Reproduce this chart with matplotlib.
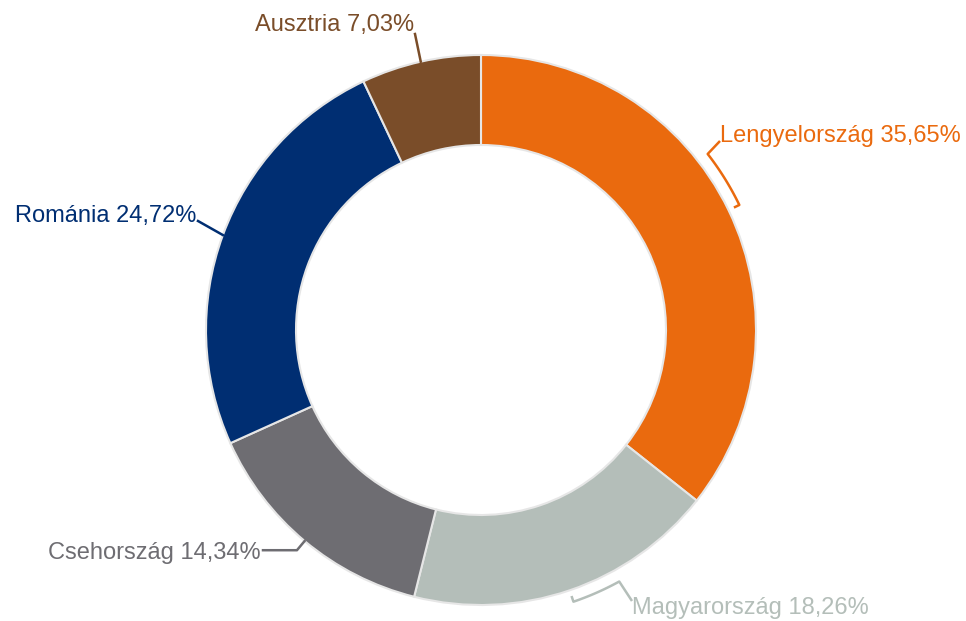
import numpy as np
import matplotlib.pyplot as plt

plt.rcParams['font.family'] = ['Liberation Sans', 'DejaVu Sans']

# data
countries = ["Lengyelország", "Magyarország", "Csehország", "Románia", "Ausztria"]
shares = [35.65, 18.26, 14.34, 24.72, 7.03]
colors = ["#EA6A0E", "#B4BEB9", "#6E6D72", "#002E72", "#7A4D29"]

W, H = 966, 621
CX, CY = 481, H - 330
R = 275
RING = 90

fig = plt.figure(figsize=(W / 100, H / 100), dpi=100)
ax = fig.add_axes([0, 0, 1, 1])

wedges, _ = ax.pie(
    shares,
    colors=colors,
    radius=R,
    center=(CX, CY),
    startangle=90,
    counterclock=False,
    wedgeprops=dict(width=RING, edgecolor="#E6E6E6", linewidth=1.5),
    frame=True,
)
ax.set_xlim(0, W)
ax.set_ylim(0, H)
ax.axis("off")


def pt(r, ang):
    a = np.deg2rad(ang)
    return CX + r * np.cos(a), CY + r * np.sin(a)


def fmt(v):
    return ("%.2f" % v).replace(".", ",") + "%"


mids = [(w.theta1 + w.theta2) / 2 for w in wedges]

# label layout: (text x, text y from top, ha)
layout = {
    "Lengyelország": (720, 136, "left"),
    "Magyarország": (632, 608, "left"),
    "Csehország": (261, 553, "right"),
    "Románia": (196, 216, "right"),
    "Ausztria": (414, 25, "right"),
}

for name, v, c, m in zip(countries, shares, colors, mids):
    tx, ty, ha = layout[name]
    ty = H - ty
    ax.text(tx, ty, name + " " + fmt(v), color=c, fontsize=17,
            ha=ha, va="center")

    if name in ("Lengyelország", "Magyarország"):
        # curved bracket leader
        span = 12 if name == "Lengyelország" else 10
        angs = np.linspace(m, m + span, 30)
        xs = [pt(R + 6, m)[0]] + [pt(R + 12, a)[0] for a in angs]
        ys = [pt(R + 6, m)[1]] + [pt(R + 12, a)[1] for a in angs]
        if name == "Lengyelország":
            xs.append(tx)
            ys.append(ty - 5)
        else:
            xs.append(tx)
            ys.append(ty + 7)
        ax.plot(xs, ys, color=c, lw=1.8, solid_capstyle="butt")
    elif name == "Csehország":
        x0, y0 = pt(R, m)
        x1, y1 = pt(R + 12, m)
        ax.plot([x0, x1, tx + 2], [y0, y1, y1], color=c, lw=1.8)
    elif name == "Románia":
        x0, y0 = pt(R, m)
        ax.plot([x0, tx + 2], [y0, ty - 5], color=c, lw=1.8)
    else:
        x0, y0 = pt(R, m)
        ax.plot([x0, tx + 1], [y0, ty - 9], color=c, lw=1.8)

fig.savefig("out.png", dpi=100)
